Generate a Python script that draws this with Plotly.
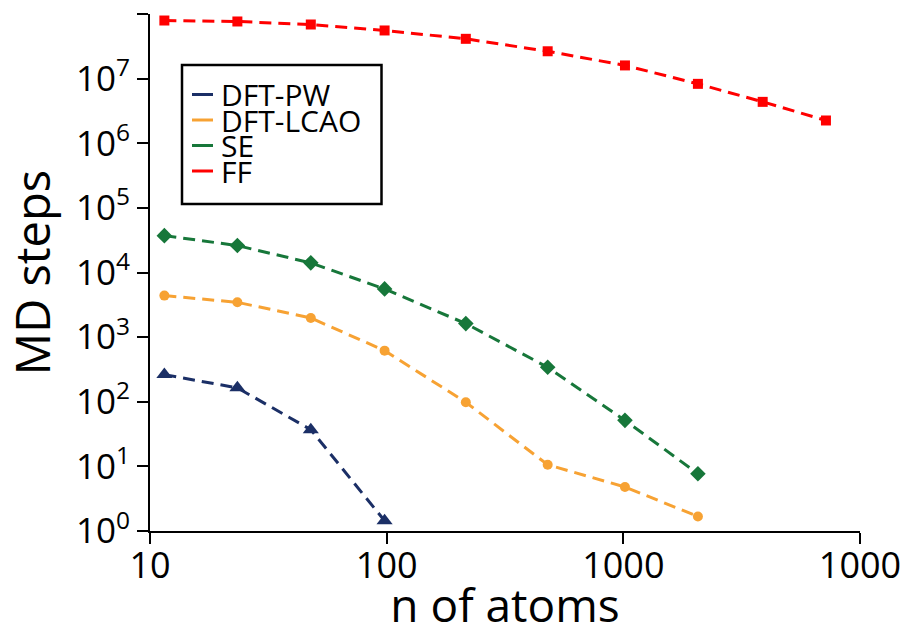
import plotly.graph_objects as go

# Number of atoms in the simulated system
atoms = [11.5, 23.4, 47.8, 98, 216, 479, 1016, 2066, 3880, 7180]

# Affordable MD steps for each level of theory
dft_pw = [263, 164, 37, 1.44]
dft_lcao = [4390, 3460, 1980, 618, 98, 10.6, 4.8, 1.68]
se = [37200, 26100, 14100, 5570, 1620, 341, 51.5, 7.7]
ff = [7.93e7, 7.66e7, 6.88e7, 5.56e7, 4.13e7, 2.65e7, 1.6e7, 8.3e6, 4.37e6, 2.25e6]

names = ["DFT-PW", "DFT-LCAO", "SE", "FF"]
colors = ["#1b2f66", "#f7a233", "#17773a", "#ff0000"]
symbols = ["triangle-up", "circle", "diamond", "square"]
marker_sizes = [14, 10, 12, 10]
series = [dft_pw, dft_lcao, se, ff]

x_tick_vals = [10, 100, 1000, 10000]
x_tick_text = ["10", "100", "1000", "1000"]
y_exponents = list(range(0, 9))

W, H = 907, 635
L, R, T, B = 150, 47, 14, 104
PW_, PH_ = W - L - R, H - T - B
FONT = "Open Sans"


def px(x):
    return (x - L) / PW_


def py(y):
    return (H - B - y) / PH_


fig = go.Figure()
for name, vals, col, sym, ms in zip(names, series, colors, symbols, marker_sizes):
    fig.add_trace(go.Scatter(
        x=atoms[:len(vals)], y=vals, name=name, mode="lines+markers",
        line=dict(color=col, width=3, dash="12px,7px"),
        marker=dict(symbol=sym, size=ms, color=col),
        showlegend=False,
    ))

# Legend box drawn as shapes and text
shapes = [dict(type="rect", xref="paper", yref="paper",
               x0=px(182), x1=px(381.5), y0=py(65), y1=py(204),
               line=dict(color="black", width=2.5), fillcolor="white", layer="above")]
annotations = []
row_y = [94.5, 120, 145.5, 171]
for name, col, ry in zip(names, colors, row_y):
    shapes.append(dict(type="line", xref="paper", yref="paper",
                       x0=px(192), x1=px(213), y0=py(ry), y1=py(ry),
                       line=dict(color=col, width=3), layer="above"))
    annotations.append(dict(xref="paper", yref="paper", x=px(220), y=py(ry),
                            text=name, showarrow=False, xanchor="left", yanchor="middle",
                            height=25, valign="middle", borderpad=0,
                            font=dict(family=FONT, size=30, color="black")))

fig.update_layout(
    width=W, height=H,
    margin=dict(l=L, r=R, t=T, b=B, autoexpand=False),
    paper_bgcolor="white", plot_bgcolor="white",
    showlegend=False,
    shapes=shapes, annotations=annotations,
    font=dict(family=FONT, color="black"),
)
fig.update_xaxes(
    type="log", range=[1, 4],
    tickvals=x_tick_vals, ticktext=x_tick_text,
    tickfont=dict(family=FONT, size=36, color="black"),
    ticks="outside", ticklen=11, tickwidth=2, tickcolor="black",
    ticklabelstandoff=-9,
    showline=True, linecolor="black", linewidth=2, showgrid=False, zeroline=False,
    title=dict(text="n of atoms", font=dict(family=FONT, size=46, color="black"), standoff=2),
    automargin=False,
)
fig.update_yaxes(
    type="log", range=[0, 8],
    tickvals=[10 ** e for e in y_exponents],
    ticktext=[f"10<sup>{e}</sup>" for e in y_exponents],
    tickfont=dict(family=FONT, size=35, color="black"),
    ticks="outside", ticklen=11, tickwidth=2, tickcolor="black",
    showline=True, linecolor="black", linewidth=2, showgrid=False, zeroline=False,
    title=dict(text="MD steps", font=dict(family=FONT, size=47, color="black"), standoff=12),
    automargin=False,
)

fig.write_html("out.html")
